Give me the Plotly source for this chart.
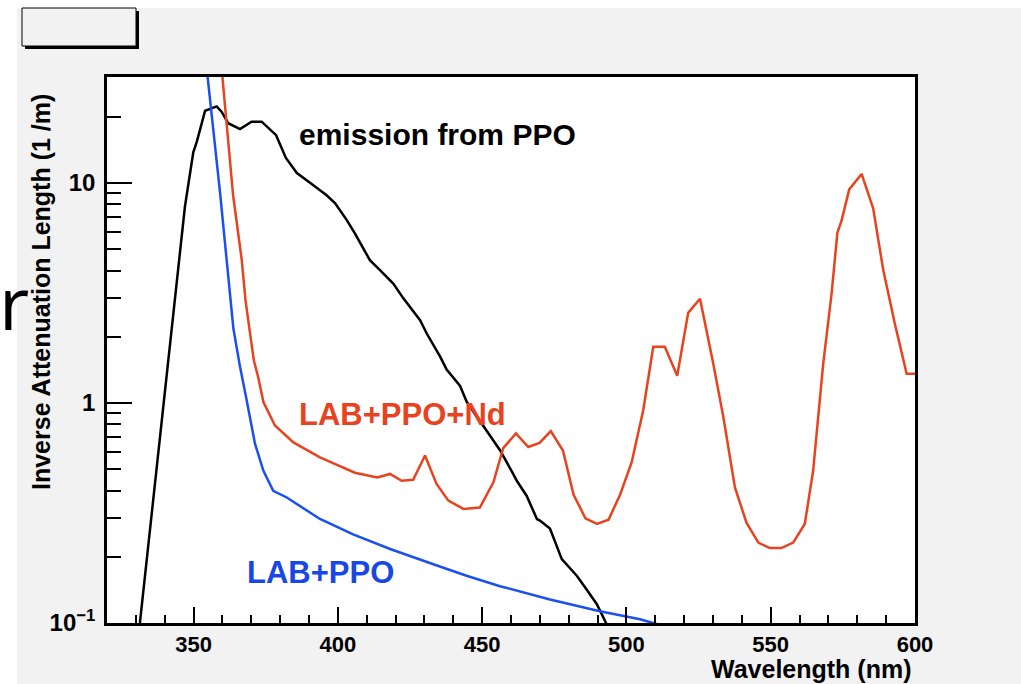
import plotly.graph_objects as go

# ---- data ----
emission_nm = [331.4, 341.8, 345.9, 347.0, 349.9, 351.1, 354.0, 355.7, 358.0, 359.7,
               362.0, 366.1, 370.1, 373.6, 378.6, 382.0, 385.8, 391.4, 396.1, 399.0,
               403.1, 405.9, 411.1, 414.6, 419.2, 422.7, 428.5, 430.8, 435.4, 437.7,
               442.3, 444.7, 451.0, 456.2, 460.8, 462.0, 465.4, 469.0, 470.0, 473.5,
               477.6, 482.8, 486.2, 489.7, 493.1, 495.0]
emission_val = [0.1, 1.83, 6.1, 7.8, 13.8, 15.4, 21.3, 21.7, 22.3, 21.1,
                18.7, 17.6, 19.0, 19.0, 16.5, 13.0, 11.1, 9.8, 8.8, 8.1,
                6.78, 5.9, 4.46, 4.02, 3.49, 2.99, 2.38, 2.07, 1.63, 1.42,
                1.20, 1.01, 0.77, 0.61, 0.475, 0.443, 0.379, 0.297, 0.292, 0.269,
                0.195, 0.164, 0.142, 0.122, 0.099, 0.085]

lab_ppo_nm = [352.0, 354.8, 359.2, 363.8, 366.1, 368.4, 371.3, 374.2, 377.6, 382.3,
              393.8, 405.3, 418.1, 433.1, 444.6, 456.2, 473.5, 490.8, 504.7, 512.8, 516.0]
lab_ppo_val = [68, 30.4, 8.97, 2.18, 1.46, 1.03, 0.652, 0.492, 0.399, 0.372,
               0.297, 0.253, 0.217, 0.185, 0.164, 0.147, 0.128, 0.113, 0.104, 0.097, 0.093]

lab_ppo_nd_nm = [358.5, 360.0, 361.4, 363.7, 366.7, 368.0, 369.9, 370.9, 372.4, 374.2,
                 378.2, 384.6, 393.8, 405.9, 413.7, 418.1, 422.1, 426.1, 430.2, 434.2,
                 438.3, 443.5, 449.2, 453.9, 457.3, 461.7, 466.0, 469.9, 473.8, 478.0,
                 481.7, 485.8, 489.8, 493.8, 497.8, 501.8, 505.8, 509.3, 513.3, 517.6,
                 521.4, 525.5, 530.1, 533.6, 537.6, 541.6, 545.7, 549.7, 553.7, 557.8,
                 561.8, 564.7, 568.2, 571.1, 573.1, 574.6, 577.2, 581.5, 585.5, 589.0,
                 593.0, 597.1, 600.0]
lab_ppo_nd_val = [50, 30.4, 18.0, 8.8, 4.46, 2.93, 1.93, 1.56, 1.31, 1.01,
                  0.79, 0.662, 0.566, 0.482, 0.459, 0.476, 0.443, 0.448, 0.577, 0.429,
                  0.360, 0.330, 0.335, 0.436, 0.624, 0.727, 0.631, 0.659, 0.745, 0.608,
                  0.383, 0.299, 0.282, 0.295, 0.383, 0.537, 0.925, 1.80, 1.80, 1.33,
                  2.57, 2.98, 1.51, 0.861, 0.413, 0.286, 0.232, 0.219, 0.219, 0.232,
                  0.282, 0.492, 1.51, 3.14, 5.94, 6.78, 9.36, 11.0, 7.68, 4.02,
                  2.30, 1.36, 1.36]

x_range = [320, 600]
y_major = [0.1, 1, 10]
y_major_text = ["10<sup>−1</sup>", "1", "10"]
y_minor = [0.2, 0.3, 0.4, 0.5, 0.6, 0.7, 0.8, 0.9, 2, 3, 4, 5, 6, 7, 8, 9, 20]

RED = "#E8431F"
BLUE = "#1A50F0"
FONT = "Liberation Sans"

# ---- geometry (pixels) ----
W, H = 1021, 684
L, R, T, B = 107, 915, 77, 623
pw, ph = R - L, B - T


def px(x):
    return (x - L) / pw


def py(y):
    return (B - y) / ph


fig = go.Figure()
fig.add_trace(go.Scatter(x=emission_nm, y=emission_val, mode="lines",
                         line=dict(color="black", width=2.5), showlegend=False))
fig.add_trace(go.Scatter(x=lab_ppo_nd_nm, y=lab_ppo_nd_val, mode="lines",
                         line=dict(color=RED, width=2.5), showlegend=False))
fig.add_trace(go.Scatter(x=lab_ppo_nm, y=lab_ppo_val, mode="lines",
                         line=dict(color=BLUE, width=2.5), showlegend=False))

shapes = [
    # white strips (top and left) outside the grey canvas
    dict(type="rect", xref="paper", yref="paper", x0=px(-5), x1=px(W + 5), y0=py(8), y1=py(-5),
         fillcolor="white", line=dict(width=0), layer="below"),
    dict(type="rect", xref="paper", yref="paper", x0=px(-5), x1=px(17), y0=py(H + 5), y1=py(-5),
         fillcolor="white", line=dict(width=0), layer="below"),
    # empty pave box with shadow
    dict(type="rect", xref="paper", yref="paper", x0=px(25), x1=px(139), y0=py(49), y1=py(11),
         fillcolor="black", line=dict(width=0)),
    dict(type="rect", xref="paper", yref="paper", x0=px(22), x1=px(136), y0=py(46), y1=py(8),
         fillcolor="#f2f2f2", line=dict(color="black", width=1)),
]

annotations = [
    dict(text="<b>emission from PPO</b>", x=px(297), y=py(135), xref="paper", yref="paper",
         xanchor="left", yanchor="middle", showarrow=False,
         font=dict(family=FONT, size=30, color="black")),
    dict(text="<b>LAB+PPO+Nd</b>", x=px(297), y=py(414), xref="paper", yref="paper",
         xanchor="left", yanchor="middle", showarrow=False,
         font=dict(family=FONT, size=31, color=RED)),
    dict(text="<b>LAB+PPO</b>", x=px(245), y=py(572), xref="paper", yref="paper",
         xanchor="left", yanchor="middle", showarrow=False,
         font=dict(family=FONT, size=31, color="#1847E6")),
    dict(text="<b>Wavelength (nm)</b>", x=px(913), y=py(669), xref="paper", yref="paper",
         xanchor="right", yanchor="middle", showarrow=False,
         font=dict(family=FONT, size=25, color="black")),
    dict(text="<b>Inverse Attenuation Length (1 /m)</b>", x=px(41), y=py(292),
         xref="paper", yref="paper", xanchor="center", yanchor="middle",
         textangle=-90, showarrow=False,
         font=dict(family=FONT, size=25, color="black")),
    dict(text="r", x=px(-3), y=py(301), xref="paper", yref="paper",
         xanchor="left", yanchor="middle", showarrow=False,
         font=dict(family="Open Sans", size=74, color="black")),
]

fig.update_layout(
    width=W, height=H,
    margin=dict(l=L, r=W - R, t=T, b=H - B, pad=0),
    paper_bgcolor="#f2f2f2",
    plot_bgcolor="white",
    shapes=shapes,
    annotations=annotations,
    showlegend=False,
    xaxis=dict(
        range=x_range, dtick=50, tick0=0,
        showgrid=False, zeroline=False,
        showline=True, mirror=True, linecolor="black", linewidth=2.5,
        ticks="inside", ticklen=16, tickwidth=1.5, tickcolor="black",
        minor=dict(dtick=10, tick0=0, ticks="inside", ticklen=8, tickwidth=1.5,
                   tickcolor="black", showgrid=False),
        tickfont=dict(family=FONT, size=22, color="black", weight="bold"),
        ticklabelstandoff=0,
    ),
    yaxis=dict(
        type="log", range=[-1, 1.482],
        tickmode="array", tickvals=y_major, ticktext=y_major_text,
        showgrid=False, zeroline=False,
        showline=True, mirror=True, linecolor="black", linewidth=2.5,
        ticks="inside", ticklen=25, tickwidth=1.5, tickcolor="black",
        minor=dict(tickmode="array", tickvals=y_minor, ticks="inside", ticklen=14,
                   tickwidth=1.5, tickcolor="black", showgrid=False),
        tickfont=dict(family=FONT, size=24, color="black", weight="bold"),
        ticklabelstandoff=4,
    ),
)

fig.write_html("out.html")
